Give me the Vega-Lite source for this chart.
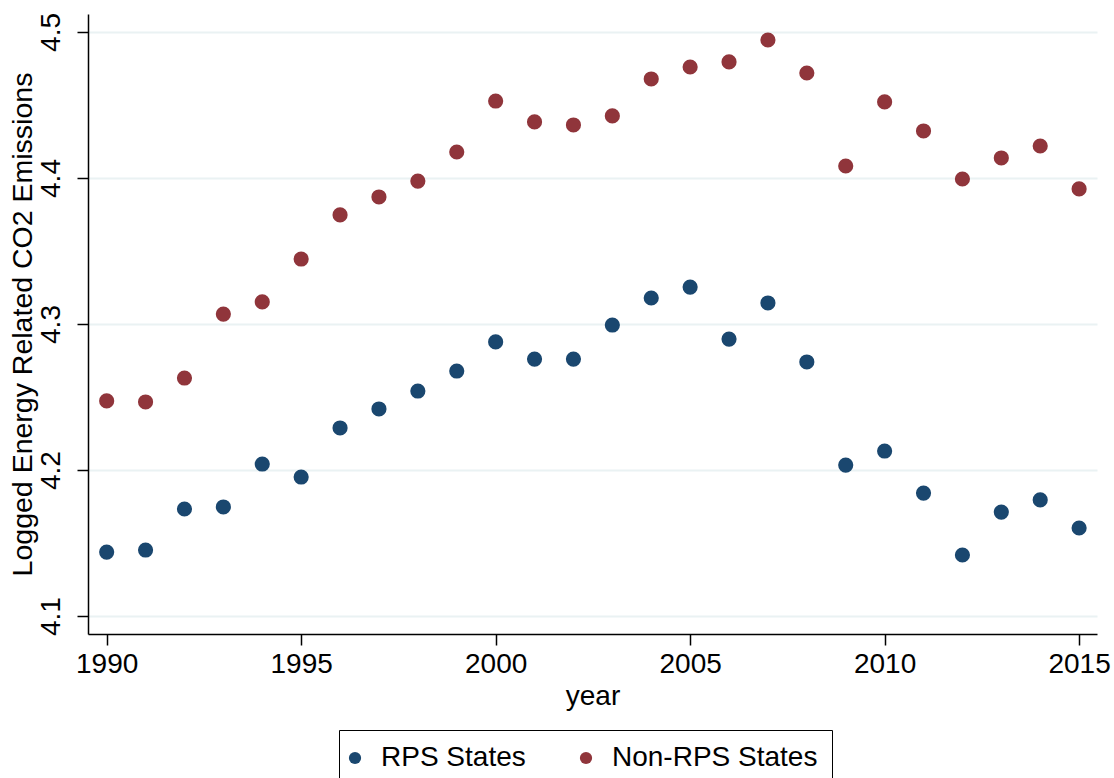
{
  "$schema": "https://vega.github.io/schema/vega-lite/v6.json",
  "autosize": {"type": "none"},
  "width": 1009,
  "height": 620,
  "padding": {"left": 88, "top": 14, "right": 17, "bottom": 144},
  "background": "white",
  "config": {
    "view": {"stroke": null},
    "font": "Liberation Sans"
  },
  "data": {
    "values": [
      {"year": 1990, "group": "RPS States", "value": 4.1438},
      {"year": 1991, "group": "RPS States", "value": 4.1452},
      {"year": 1992, "group": "RPS States", "value": 4.1733},
      {"year": 1993, "group": "RPS States", "value": 4.1747},
      {"year": 1994, "group": "RPS States", "value": 4.2041},
      {"year": 1995, "group": "RPS States", "value": 4.1952},
      {"year": 1996, "group": "RPS States", "value": 4.2288},
      {"year": 1997, "group": "RPS States", "value": 4.2418},
      {"year": 1998, "group": "RPS States", "value": 4.2541},
      {"year": 1999, "group": "RPS States", "value": 4.2678},
      {"year": 2000, "group": "RPS States", "value": 4.2877},
      {"year": 2001, "group": "RPS States", "value": 4.2760},
      {"year": 2002, "group": "RPS States", "value": 4.2760},
      {"year": 2003, "group": "RPS States", "value": 4.2993},
      {"year": 2004, "group": "RPS States", "value": 4.3178},
      {"year": 2005, "group": "RPS States", "value": 4.3253},
      {"year": 2006, "group": "RPS States", "value": 4.2897},
      {"year": 2007, "group": "RPS States", "value": 4.3144},
      {"year": 2008, "group": "RPS States", "value": 4.2740},
      {"year": 2009, "group": "RPS States", "value": 4.2034},
      {"year": 2010, "group": "RPS States", "value": 4.2130},
      {"year": 2011, "group": "RPS States", "value": 4.1842},
      {"year": 2012, "group": "RPS States", "value": 4.1418},
      {"year": 2013, "group": "RPS States", "value": 4.1712},
      {"year": 2014, "group": "RPS States", "value": 4.1795},
      {"year": 2015, "group": "RPS States", "value": 4.1603},
      {"year": 1990, "group": "Non-RPS States", "value": 4.2473},
      {"year": 1991, "group": "Non-RPS States", "value": 4.2466},
      {"year": 1992, "group": "Non-RPS States", "value": 4.2630},
      {"year": 1993, "group": "Non-RPS States", "value": 4.3068},
      {"year": 1994, "group": "Non-RPS States", "value": 4.3151},
      {"year": 1995, "group": "Non-RPS States", "value": 4.3445},
      {"year": 1996, "group": "Non-RPS States", "value": 4.3747},
      {"year": 1997, "group": "Non-RPS States", "value": 4.3870},
      {"year": 1998, "group": "Non-RPS States", "value": 4.3979},
      {"year": 1999, "group": "Non-RPS States", "value": 4.4178},
      {"year": 2000, "group": "Non-RPS States", "value": 4.4527},
      {"year": 2001, "group": "Non-RPS States", "value": 4.4384},
      {"year": 2002, "group": "Non-RPS States", "value": 4.4363},
      {"year": 2003, "group": "Non-RPS States", "value": 4.4425},
      {"year": 2004, "group": "Non-RPS States", "value": 4.4678},
      {"year": 2005, "group": "Non-RPS States", "value": 4.4760},
      {"year": 2006, "group": "Non-RPS States", "value": 4.4795},
      {"year": 2007, "group": "Non-RPS States", "value": 4.4945},
      {"year": 2008, "group": "Non-RPS States", "value": 4.4719},
      {"year": 2009, "group": "Non-RPS States", "value": 4.4082},
      {"year": 2010, "group": "Non-RPS States", "value": 4.4521},
      {"year": 2011, "group": "Non-RPS States", "value": 4.4322},
      {"year": 2012, "group": "Non-RPS States", "value": 4.3993},
      {"year": 2013, "group": "Non-RPS States", "value": 4.4137},
      {"year": 2014, "group": "Non-RPS States", "value": 4.4219},
      {"year": 2015, "group": "Non-RPS States", "value": 4.3925}
    ]
  },
  "mark": {"type": "point", "filled": true, "opacity": 1, "size": 230, "strokeWidth": 0},
  "encoding": {
    "x": {
      "field": "year",
      "type": "quantitative",
      "scale": {"domain": [1989.52, 2015.46], "nice": false, "zero": false},
      "axis": {
        "title": "year",
        "values": [1990, 1995, 2000, 2005, 2010, 2015],
        "format": "d",
        "grid": false,
        "domainColor": "black",
        "domainWidth": 1.5,
        "tickColor": "black",
        "tickWidth": 1.5,
        "tickSize": 11,
        "labelFontSize": 28,
        "labelColor": "black",
        "labelPadding": 5,
        "titleFontSize": 28,
        "titleFontWeight": "normal",
        "titleColor": "black",
        "titlePadding": 4
      }
    },
    "y": {
      "field": "value",
      "type": "quantitative",
      "scale": {"domain": [4.0877, 4.5123], "nice": false, "zero": false},
      "axis": {
        "title": "Logged Energy Related CO2 Emissions",
        "values": [4.1, 4.2, 4.3, 4.4, 4.5],
        "format": ".1f",
        "grid": true,
        "gridColor": "#eaf2f3",
        "gridWidth": 2,
        "domainColor": "black",
        "domainWidth": 1.5,
        "tickColor": "black",
        "tickWidth": 1.5,
        "tickSize": 11,
        "labelFontSize": 28,
        "labelColor": "black",
        "labelAngle": -90,
        "labelAlign": "center",
        "labelBaseline": "bottom",
        "labelPadding": 12,
        "titleFontSize": 28.5,
        "titleFontWeight": "normal",
        "titleColor": "black",
        "titlePadding": 0
      }
    },
    "color": {
      "field": "group",
      "type": "nominal",
      "scale": {"domain": ["RPS States", "Non-RPS States"], "range": ["#1a476f", "#90353b"]},
      "legend": {
        "title": null,
        "orient": "none",
        "legendX": 251,
        "legendY": 716,
        "direction": "horizontal",
        "strokeColor": "black",
        "fillColor": "white",
        "padding": 14,
        "symbolType": "circle",
        "symbolSize": 150,
        "symbolStrokeWidth": 0,
        "symbolOffset": -12,
        "labelFontSize": 28,
        "labelColor": "black",
        "labelOffset": 12,
        "columnPadding": 53,
        "labelLimit": 400
      }
    }
  }
}
